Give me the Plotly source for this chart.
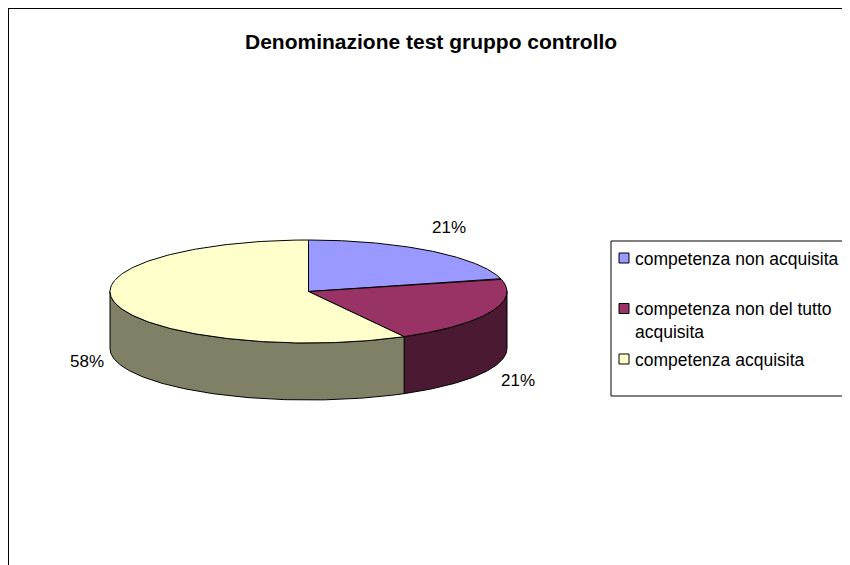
import textwrap
import numpy as np
import plotly.graph_objects as go

# ----------------------------
# dati
# ----------------------------
titolo = "Denominazione test gruppo controllo"
categorie = ["competenza non acquisita", "competenza non del tutto acquisita", "competenza acquisita"]
valori = [21, 21, 58]
colori_top = ["#9999FF", "#993366", "#FFFFCC"]
colori_lato = ["#4C4C80", "#4C1933", "#808066"]

# ----------------------------
# geometria della torta 3D (pixel della pagina)
# ----------------------------
W, H = 850, 565
OFF = 8  # margine del body della pagina html
cx, cy = 308.5, 291.5
rx, ry = 198.5, 51.5
depth = 57

def punto(t, dy=0):
    r = np.radians(t)
    return cx + rx * np.sin(r), cy - ry * np.cos(r) + dy

tot = sum(valori)
angoli = np.cumsum([0] + [v / tot * 360 for v in valori])

fig = go.Figure()

# lati frontali (visibili tra 90 e 270 gradi)
for i in range(len(valori)):
    a0, a1 = max(angoli[i], 90), min(angoli[i + 1], 270)
    if a1 <= a0:
        continue
    t = np.linspace(a0, a1, 120)
    xs_top, ys_top = punto(t)
    xs_bot, ys_bot = punto(t[::-1], depth)
    xs = np.concatenate([xs_top, xs_bot, xs_top[:1]])
    ys = np.concatenate([ys_top, ys_bot, ys_top[:1]])
    fig.add_trace(go.Scatter(x=xs, y=ys, mode="lines", fill="toself",
                             fillcolor=colori_lato[i], line=dict(color="black", width=1),
                             hoverinfo="skip", showlegend=False))

# facce superiori
for i in range(len(valori)):
    t = np.linspace(angoli[i], angoli[i + 1], 200)
    xa, ya = punto(t)
    xs = np.concatenate([[cx], xa, [cx]])
    ys = np.concatenate([[cy], ya, [cy]])
    fig.add_trace(go.Scatter(x=xs, y=ys, mode="lines", fill="toself",
                             fillcolor=colori_top[i], line=dict(color="black", width=1),
                             name=categorie[i], hoverinfo="name", showlegend=False))

# etichette percentuali
for i, v in enumerate(valori):
    mid = np.radians((angoli[i] + angoli[i + 1]) / 2)
    lx = cx + (rx + 30) * np.sin(mid)
    ly = cy - (ry + 30) * np.cos(mid) + (depth * min(1, -3.5 * np.cos(mid)) if np.cos(mid) < 0 else 0)
    fig.add_annotation(x=lx, y=ly, text=f"{round(v / tot * 100)}%", showarrow=False,
                       font=dict(size=17, color="black"), xanchor="center", yanchor="middle")

# ----------------------------
# legenda manuale
# ----------------------------
leg_x0, leg_y0, leg_y1 = 611, 241, 396
fig.add_shape(type="rect", x0=leg_x0, y0=leg_y0, x1=W + 30, y1=leg_y1,
              line=dict(color="black", width=1), fillcolor="white", layer="below")
for i, nome in enumerate(categorie):
    yc = leg_y0 + 17 + i * 50.5
    fig.add_shape(type="rect", x0=619, x1=629, y0=yc - 5, y1=yc + 5,
                  line=dict(color="black", width=1), fillcolor=colori_top[i])
    righe = textwrap.wrap(nome, width=24)
    fig.add_annotation(x=633, y=yc - 11.5, text="<br>".join(righe), showarrow=False, align="left",
                       xanchor="left", yanchor="top", font=dict(size=17.5, color="black"))

# bordo dell'area grafico
fig.add_shape(type="rect", x0=8, y0=8, x1=W + 30, y1=H + 30,
              line=dict(color="black", width=2), layer="below")

# titolo
fig.add_annotation(x=431, y=41, text=f"<b>{titolo}</b>", showarrow=False,
                   font=dict(size=21, color="black"), xanchor="center", yanchor="middle")

# la figura parte da (8, 8) nella pagina: la riduco per non avere barre di scorrimento
fig.update_layout(
    width=W - OFF, height=H - OFF,
    margin=dict(l=0, r=0, t=0, b=0),
    paper_bgcolor="white", plot_bgcolor="white",
    font=dict(family="Liberation Sans, Arial", color="black"),
    xaxis=dict(range=[OFF, W], visible=False, fixedrange=True),
    yaxis=dict(range=[H, OFF], visible=False, fixedrange=True),
    showlegend=False,
)

fig.write_html("out.html", config={"displayModeBar": False})
